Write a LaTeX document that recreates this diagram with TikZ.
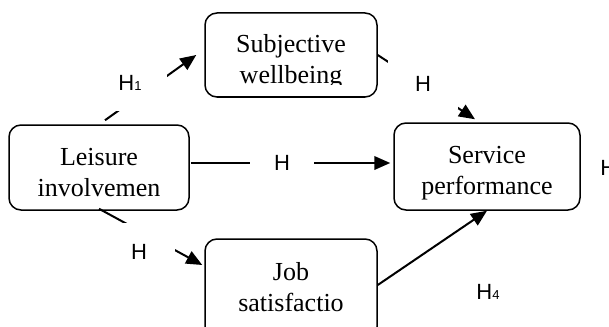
\documentclass[tikz,border=0pt]{standalone}
\usepackage{fontspec}
\setmainfont{Liberation Serif}
\newfontfamily\hypfont{Liberation Sans}
\usetikzlibrary{arrows.meta, calc}

\newcommand{\hsub}[1]{H{\fontsize{6.5}{7}\selectfont #1}}

\begin{document}
\begin{tikzpicture}[x=0.5pt, y=-0.5pt,
    box/.style={draw, line width=0.75pt, rounded corners=6pt, inner sep=0pt},
    txt/.style={align=center, inner sep=0pt, font=\fontsize{13}{15.5}\selectfont},
    hyp/.style={fill=white, inner sep=0pt, font=\hypfont\fontsize{11}{13}\selectfont},
    arr/.style={line width=1pt, -{Triangle[length=8pt, width=6.8pt]}}]
    \useasboundingbox (0,0) rectangle (609,326);
    \clip (0,0) rectangle (609,326);

    % constructs
    \node[box, minimum width=90pt, minimum height=42.5pt] (li) at (99,167.5) {};
    \node[txt] (litxt) at ($(li)+(0,5)$) {Leisure\\involvemen};
    \node[box, minimum width=86pt, minimum height=42pt] (sw) at (291,55) {};
    \begin{scope}
      \clip (sw.north west) rectangle ($(sw.east)+(0,30)$);
      \node[txt] (swtxt) at ($(sw)+(0,7)$) {Subjective\\wellbeing};
    \end{scope}
    \node[box, minimum width=93pt, minimum height=43.5pt] (sp) at (487,166.5) {};
    \node[txt] (sptxt) at ($(sp)+(0,6.5)$) {Service\\performance};
    \node[box, minimum width=86pt, minimum height=50pt] (js) at (291,289) {};
    \node[txt] (jstxt) at ($(js)+(0,-2)$) {Job\\satisfactio};

    % paths
    \draw[arr] ($(li.north)+(6,-4)$) -- ($(sw.west)+(-8,0)$);
    \draw[arr] (sw.east) -- ($(sp.north)+(-12,-3)$);
    \draw[arr] ($(li.east)+(1,-4.5)$) -- ($(sp.west)+(-3,-3.5)$);
    \draw[arr] ($(li.south)+(0,-2)$) -- ($(js.west)+(-2,-24)$);
    \draw[arr] ($(js.east)+(0,-4)$) -- (sp.south);

    % hypotheses
    \node[hyp, minimum width=37pt, minimum height=28pt] (h1) at (130,83) {\hsub{1}};
    \node[hyp, minimum width=35pt, minimum height=25pt] (h2) at (423,84) {H};
    \node[hyp, minimum width=32pt, minimum height=20pt] (h3) at (282,163) {H};
    \node[hyp, minimum width=36pt, minimum height=29pt] (h5) at (139,252) {H};
    \node[hyp, fill=none] (h4) at (488,292) {\hsub{4}};
    \node[hyp, fill=none, anchor=west] (h6) at (600,168) {H};
  \end{tikzpicture}
\end{document}
